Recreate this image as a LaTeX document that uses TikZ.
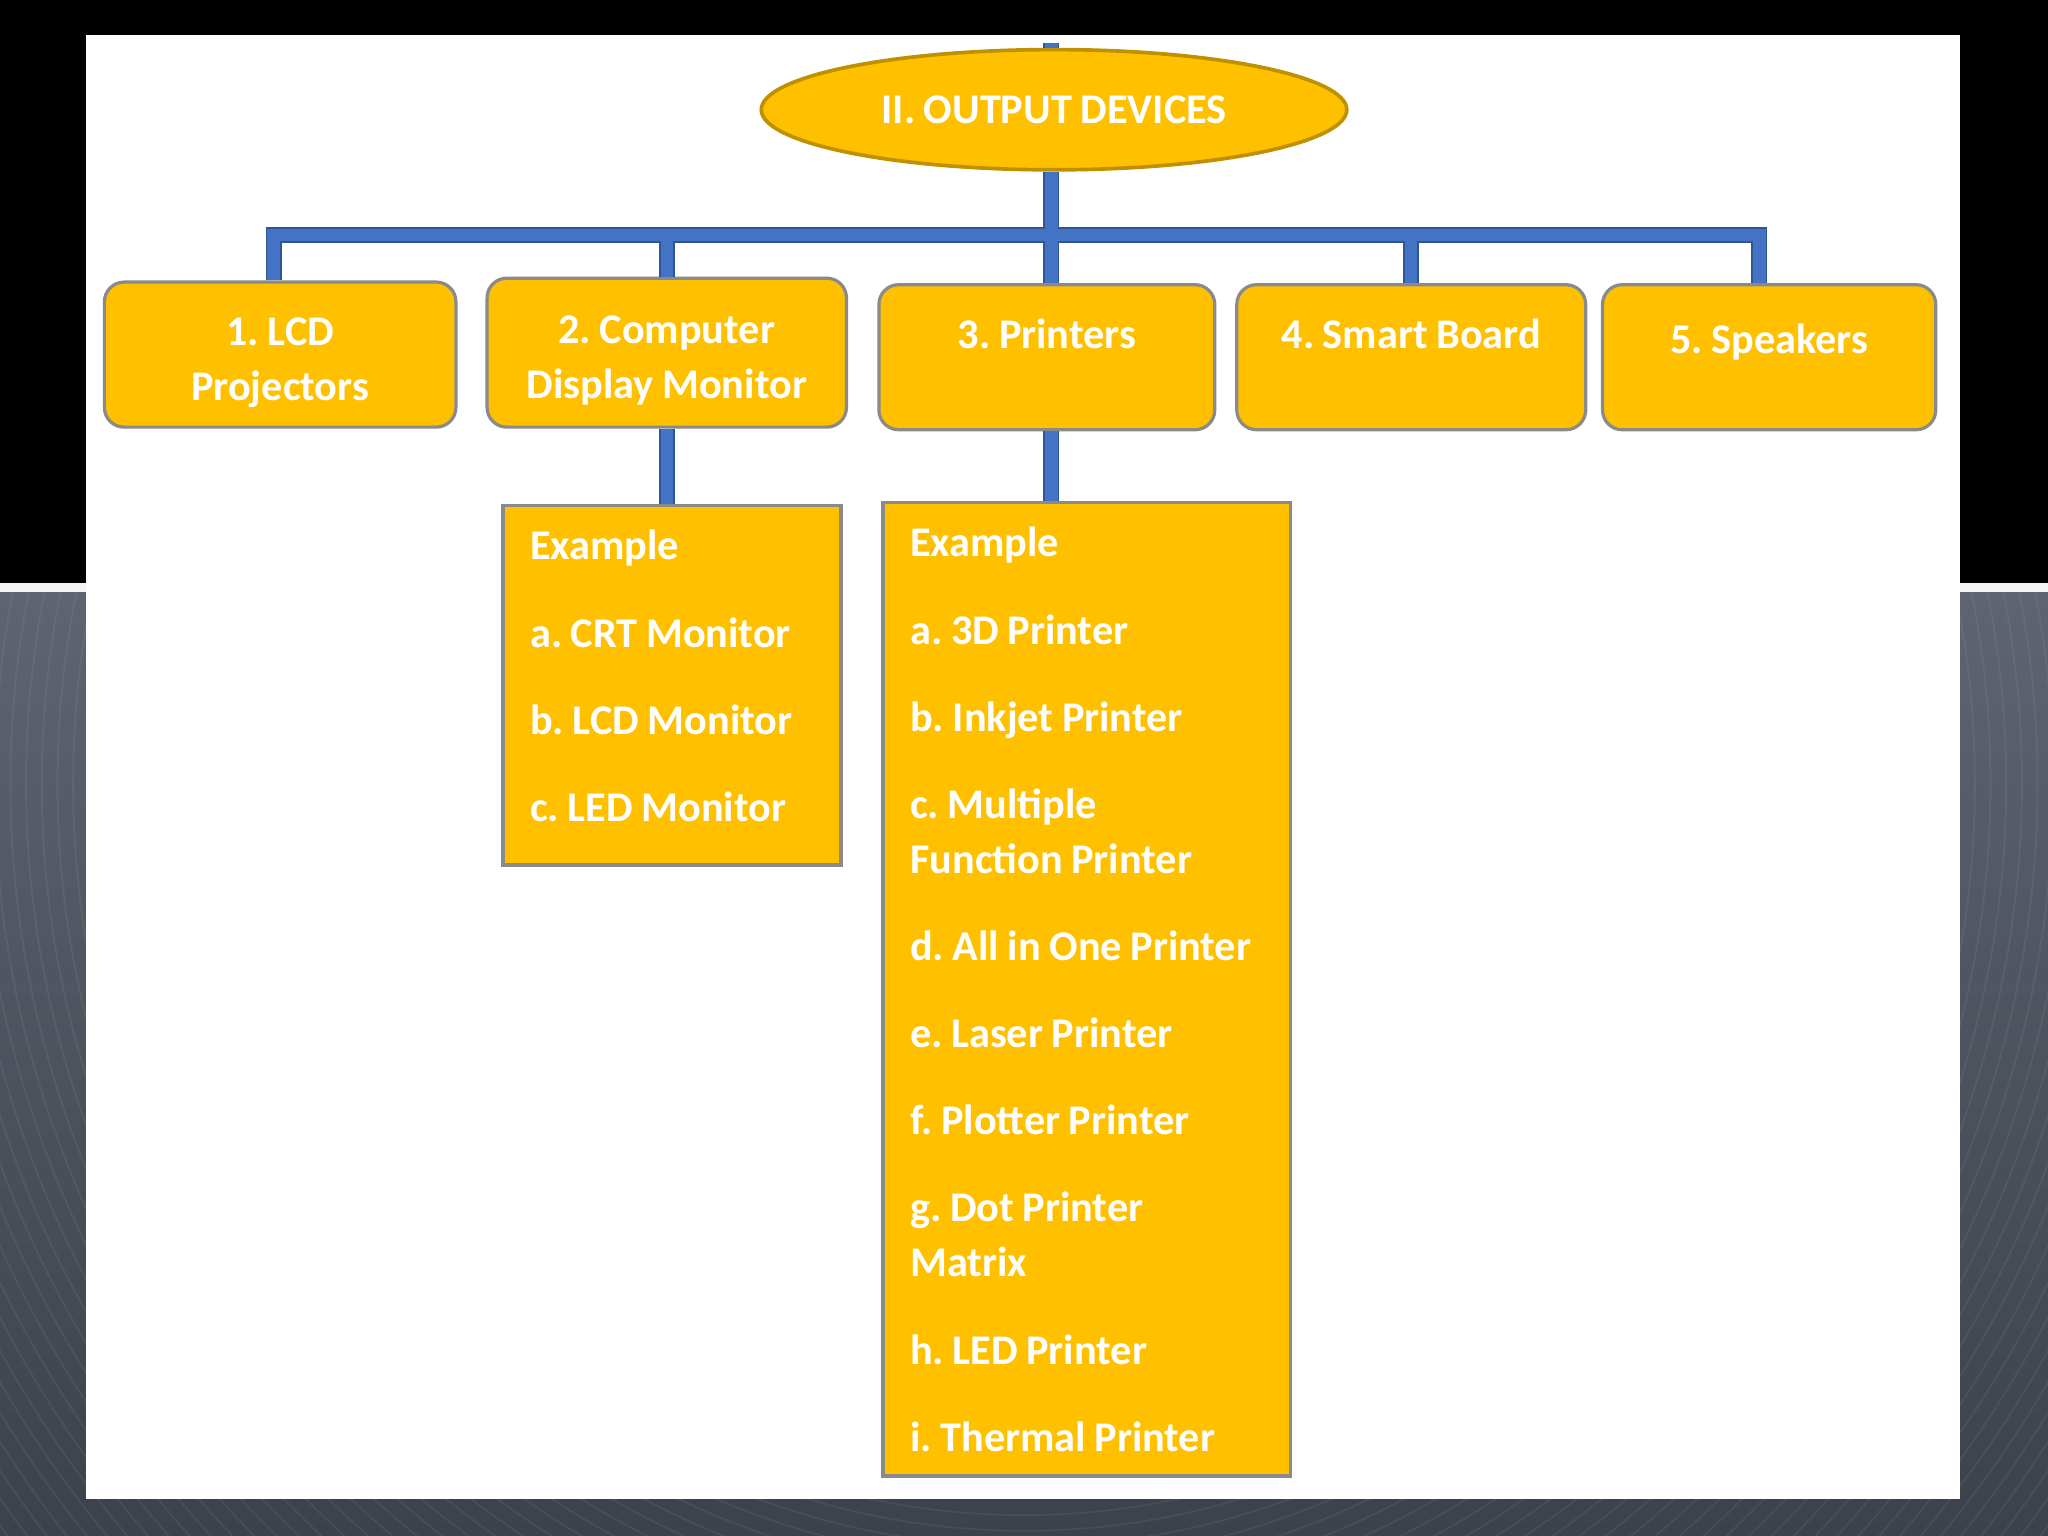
\documentclass[tikz,border=0pt]{standalone}
\usepackage{fontspec}
\setmainfont{Carlito}[WordSpace=0.9]
\usetikzlibrary{shapes.geometric,calc}
\definecolor{gold}{HTML}{FFC000}
\definecolor{goldedge}{HTML}{BF9000}
\definecolor{boxedge}{HTML}{8A8A8A}
\definecolor{connblue}{HTML}{4472C4}
\definecolor{conndark}{HTML}{2F5597}
\definecolor{slatetop}{HTML}{5E6470}
\definecolor{slatebot}{HTML}{3C414B}
\tikzset{
  labelfont/.style={font=\frenchspacing\bfseries\fontsize{9.2}{11.95}\selectfont, text=white},
  titlebox/.style={ellipse, fill=gold, draw=goldedge, line width=0.8pt, inner sep=0pt, labelfont},
  topbox/.style={rectangle, rounded corners=4.3pt, fill=gold, draw=boxedge, line width=0.7pt,
     inner sep=0pt, align=center, labelfont},
  exbox/.style={rectangle, fill=gold, draw=boxedge, line width=0.8pt, inner ysep=0pt,
     inner xsep=0.21cm, align=flush left, labelfont},
  conn/.style={line width=2.7pt, draw=connblue, miter limit=4,
     preaction={draw=conndark, line width=3.5pt}}
}
\frenchspacing
\newcommand{\itemgap}{\\[7.03pt]}
\begin{document}
\begin{tikzpicture}[x=0.01cm,y=-0.01cm]
\useasboundingbox (0,0) rectangle (1568,1176);
% backdrop
\fill[black] (0,0) rectangle (1568,446);
\fill[white!92!gray] (0,446) rectangle (1568,454);
\shade[top color=slatetop, bottom color=slatebot] (0,454) rectangle (1568,1176);
\begin{scope}
  \clip (0,454) rectangle (1568,1176);
  \foreach \r in {560,572,...,1160}
    \draw[white, opacity=0.06, line width=0.4pt] (784,600) circle[radius=\r];
\end{scope}
\fill[white] (66,27) rectangle (1501,1148);

% nodes
\node[titlebox, minimum width=4.48cm, minimum height=0.92cm] (title) at (807,84) {II. OUTPUT DEVICES};

\node[topbox, minimum width=2.69cm, minimum height=1.11cm] (b1) at (214.5,271.5) {\rule{0pt}{9.6pt}1. LCD\\Projectors};
\node[topbox, minimum width=2.75cm, minimum height=1.14cm] (b2) at (510.5,270) {\rule{0pt}{9.6pt}2. Computer\\Display Monitor};
\node[topbox, minimum width=2.57cm, minimum height=1.11cm] (b3) at (801.5,273.5) {\rule{0pt}{8.2pt}3. Printers\\\phantom{X}};
\node[topbox, minimum width=2.67cm, minimum height=1.11cm] (b4) at (1080.5,273.5) {\rule{0pt}{8.2pt}4. Smart Board\\\phantom{X}};
\node[topbox, minimum width=2.55cm, minimum height=1.11cm] (b5) at (1354.5,273.5) {\rule{0pt}{8.2pt}5. Speakers\\[-2pt]\phantom{X}};

\node[exbox, text width=2.17cm, minimum height=2.75cm] (exA) at (514.5,524.5)
  {\mbox{Example}\itemgap
   \mbox{a. CRT Monitor}\itemgap
   \mbox{b. LCD Monitor}\itemgap
   \mbox{c. LED Monitor}\rule[-4pt]{0pt}{0pt}};
\node[exbox, text width=2.70cm, minimum height=7.45cm] (exB) at (832,757.5)
  {\mbox{Example}\itemgap
   \mbox{a. 3D Printer}\itemgap
   \mbox{b. Inkjet Printer}\itemgap
   \mbox{c. Multiple}\\
   \mbox{Function Printer}\itemgap
   \mbox{d. All in One Printer}\itemgap
   \mbox{e. Laser Printer}\itemgap
   \mbox{f. Plotter Printer}\itemgap
   \mbox{g. Dot Printer}\\
   \mbox{Matrix}\itemgap
   \mbox{h. LED Printer}\itemgap
   \mbox{i. Thermal Printer}};

% connector anchors
\coordinate (topstub) at (805,33);
\coordinate (spine) at (805,180);
\coordinate (barL) at (209.5,180);
\coordinate (barR) at (1347,180);

\draw[conn]
  (b1.north -| barL) -- (barL) -- (barR) -- (b5.north -| barR)
  (topstub) -- (topstub |- title.north)
  (title.south -| spine) -- (spine |- b3.north)
  (b2.north) -- (b2.north |- barL)
  (b4.north) -- (b4.north |- barL)
  (b2.south) -- (b2.south |- exA.north)
  (b3.south -| spine) -- (spine |- exB.north);
\end{tikzpicture}
\end{document}
